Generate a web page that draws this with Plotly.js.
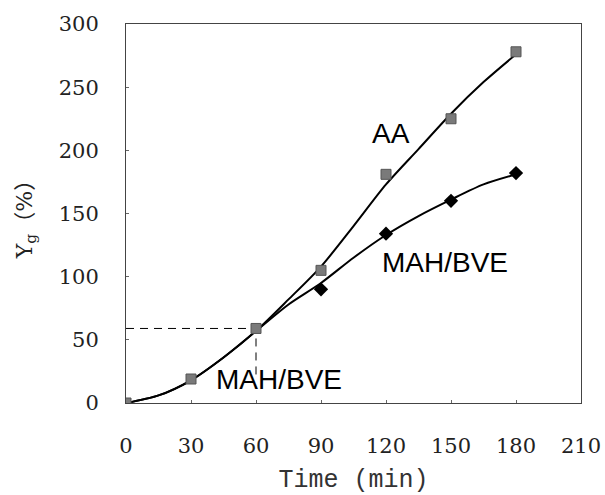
<!DOCTYPE html>
<html>
<head>
<meta charset="utf-8">
<script src="https://cdn.plot.ly/plotly-3.0.1.min.js"></script>
<style>html,body{margin:0;padding:0;background:#fff;}#chart{width:605px;height:495px;}</style>
</head>
<body>
<div id="chart"></div>
<script>
// Measured points
const timePts = [0, 30, 60, 90, 120, 150, 180];
const aaPts = [0, 19, 59, 105, 181, 225, 278];
const mahPts = [0, 19, 59, 90, 134, 160, 182];

// Fitted curves
const curveTime = [0, 15, 30, 45, 60, 75, 90, 105, 120, 135, 150, 165, 180];
const aaCurve = [0, 6, 18, 36, 57, 82, 108, 140, 173, 201, 229, 254, 276];
const mahCurve = [0, 6, 18, 36, 57, 78, 95, 115, 133, 148, 161, 173, 181];

// Guide (dashed) line at 60 min
const guideX = [0, 60, 60];
const guideY = [59, 59, 20];

const xTicks = [0, 30, 60, 90, 120, 150, 180, 210];
const yTicks = [0, 50, 100, 150, 200, 250, 300];

const traces = [
  {x: guideX, y: guideY, mode: 'lines', line: {color: '#000', width: 1, dash: '8px,6px'}, hoverinfo: 'skip'},
  {x: curveTime, y: aaCurve, mode: 'lines', line: {color: '#000', width: 2, shape: 'spline', smoothing: 0.8}},
  {x: curveTime, y: mahCurve, mode: 'lines', line: {color: '#000', width: 2, shape: 'spline', smoothing: 0.8}},
  {x: timePts.slice(3), y: mahPts.slice(3), mode: 'markers', marker: {symbol: 'diamond', size: 11, color: '#000'}},
  {x: timePts, y: aaPts, mode: 'markers', marker: {symbol: 'square', size: 10, color: '#7a7a7a', line: {color: '#555', width: 1}}}
];

const tickFont = {family: 'DejaVu Serif', size: 21, color: '#222'};
const labelFont = {family: 'Liberation Sans', size: 28, color: '#000'};
const layout = {
  width: 605, height: 495,
  margin: {l: 126, r: 24, t: 24, b: 92},
  paper_bgcolor: '#fff', plot_bgcolor: '#fff',
  showlegend: false,
  xaxis: {
    range: [0, 210], tickvals: xTicks, ticktext: xTicks.map(String),
    showgrid: false, zeroline: false, showline: true, mirror: true,
    linecolor: '#444', linewidth: 1, ticks: 'inside', ticklen: 3, tickcolor: '#666',
    tickfont: tickFont, ticklabelstandoff: 24,
    title: {text: 'Time (min)', font: {family: 'Liberation Mono', size: 25, color: '#333'}, standoff: 14}
  },
  yaxis: {
    range: [0, 300], tickvals: yTicks, ticktext: yTicks.map(String),
    showgrid: false, zeroline: false, showline: true, mirror: true,
    linecolor: '#444', linewidth: 1, ticks: 'inside', ticklen: 3, tickcolor: '#666',
    tickfont: tickFont, ticklabelstandoff: 22,
    title: {text: 'Y<sub>g</sub>（%）', font: {family: 'DejaVu Serif, Noto Sans CJK SC', size: 22, color: '#222'}, standoff: 20}
  },
  annotations: [
    {x: 122.3, y: 213, xref: 'x', yref: 'y', text: 'AA', showarrow: false, font: labelFont},
    {x: 147.2, y: 111.6, xref: 'x', yref: 'y', text: 'MAH/BVE', showarrow: false, font: labelFont},
    {x: 70.6, y: 19, xref: 'x', yref: 'y', text: 'MAH/BVE', showarrow: false, font: labelFont}
  ]
};

Plotly.newPlot('chart', traces, layout, {displayModeBar: false, staticPlot: true});
</script>
</body>
</html>
